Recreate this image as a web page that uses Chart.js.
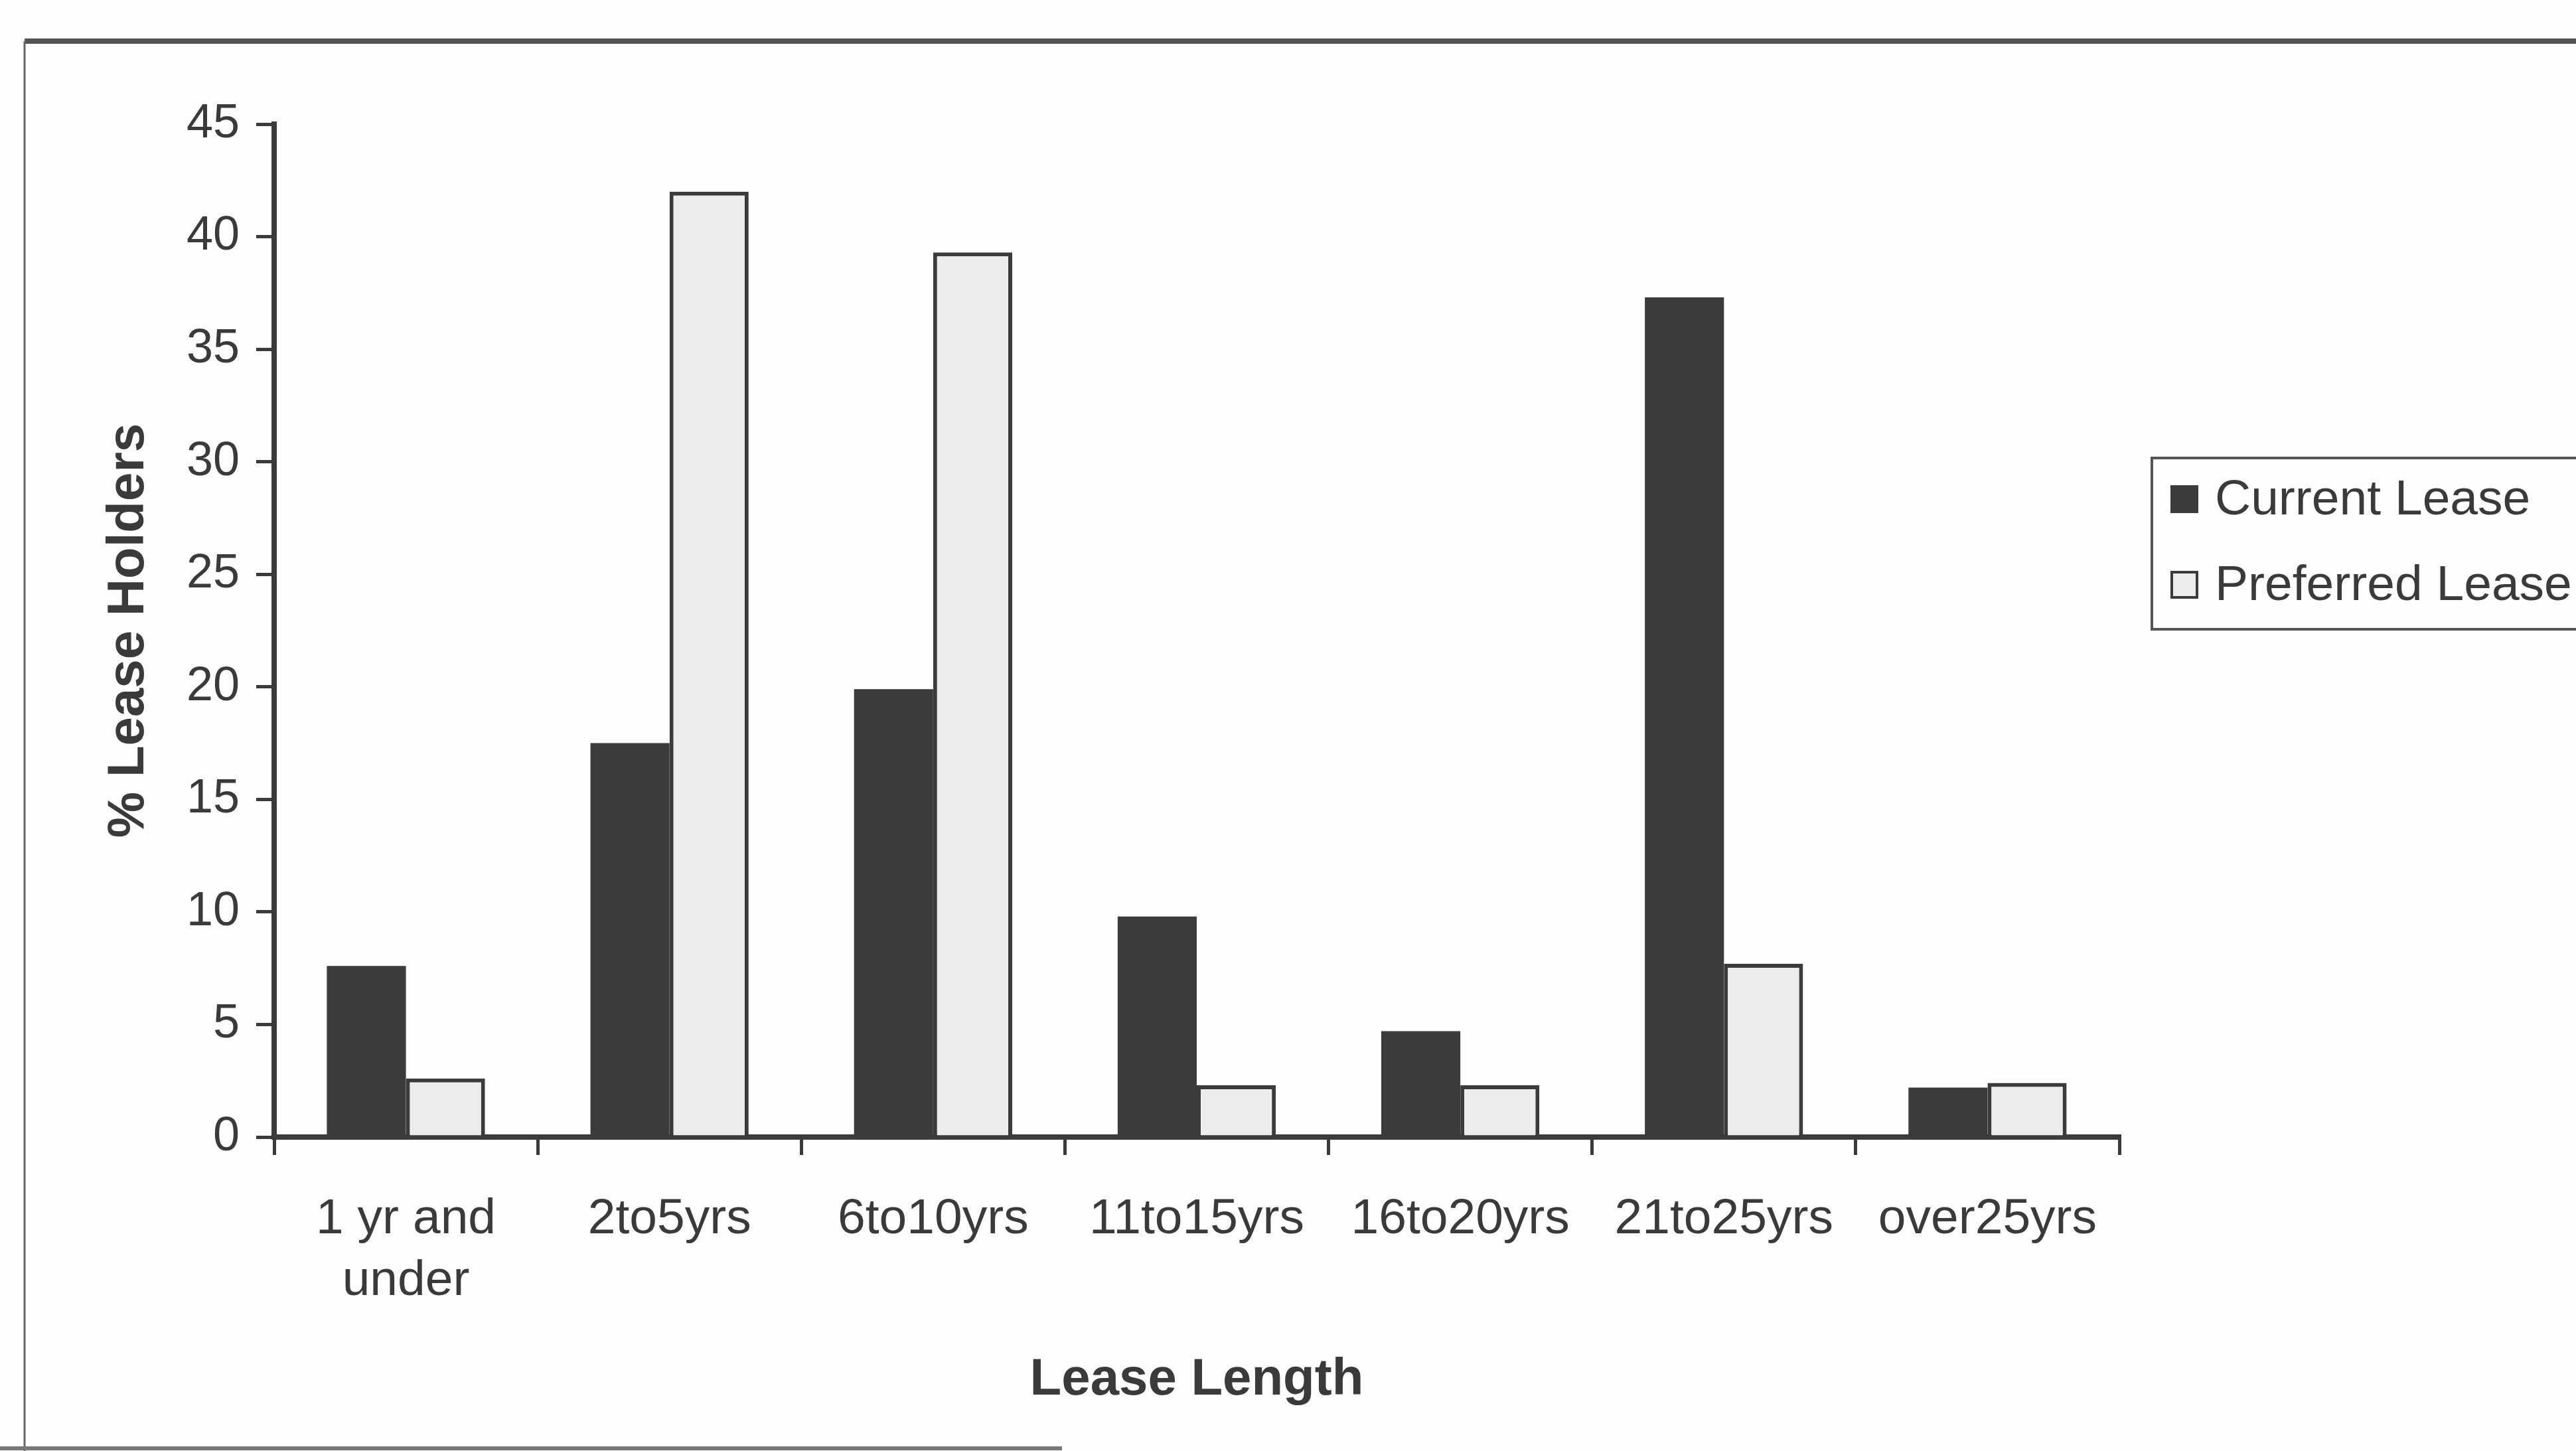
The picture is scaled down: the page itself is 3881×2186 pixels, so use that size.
<!DOCTYPE html>
<html>
<head>
<meta charset="utf-8">
<script src="https://cdn.jsdelivr.net/npm/chart.js@4/dist/chart.umd.min.js"></script>
<style>
  html, body { margin: 0; padding: 0; background: #fdfdfd; overflow: hidden; }
  #wrap { width: 3881px; height: 2186px; position: relative; }
  canvas { display: block; }
</style>
</head>
<body>
<div id="wrap"><canvas id="chart" width="3881" height="2186"></canvas></div>
<script>
// Lease length categories (x axis)
const categories = [['1 yr and', 'under'], '2to5yrs', '6to10yrs', '11to15yrs', '16to20yrs', '21to25yrs', 'over25yrs'];
// % of lease holders per category
const currentLease   = [7.6, 17.5, 19.9, 9.8, 4.7, 37.3, 2.2];
const preferredLease = [2.6, 42.0, 39.3, 2.3, 2.3, 7.7, 2.4];
// y axis tick values
const yTickValues = [0, 5, 10, 15, 20, 25, 30, 35, 40, 45];

const INK = '#3a3a3a';
const FONT = "'Liberation Sans', Arial, Helvetica, sans-serif";

// Page frame and the boxed legend at the right
const framePlugin = {
  id: 'frameAndLegend',
  beforeDraw(chart) {
    const ctx = chart.ctx;
    ctx.save();
    ctx.fillStyle = '#fdfdfd';
    ctx.fillRect(0, 0, chart.width, chart.height);
    ctx.restore();
  },
  afterDraw(chart) {
    const ctx = chart.ctx;
    ctx.save();
    // outer frame: top and left edges, faint bottom edge
    ctx.strokeStyle = '#555';
    ctx.lineWidth = 8;
    ctx.beginPath();
    ctx.moveTo(37, 62);
    ctx.lineTo(chart.width, 62);
    ctx.stroke();
    ctx.lineWidth = 3;
    ctx.strokeStyle = '#666';
    ctx.beginPath();
    ctx.moveTo(37, 62);
    ctx.lineTo(37, chart.height);
    ctx.stroke();
    ctx.lineWidth = 6;
    ctx.strokeStyle = '#777';
    ctx.beginPath();
    ctx.moveTo(0, 2182);
    ctx.lineTo(1600, 2182);
    ctx.stroke();

    // legend box
    const lx = 3242, ly = 690, lw = 720, lh = 258;
    ctx.lineWidth = 4;
    ctx.strokeStyle = '#555';
    ctx.strokeRect(lx, ly, lw, lh);
    ctx.font = '75px ' + FONT;
    ctx.textBaseline = 'middle';
    ctx.textAlign = 'left';
    chart.data.datasets.forEach((ds, i) => {
      const cy = 752 + i * 129;
      const bx = 3270, bs = 42;
      ctx.fillStyle = ds.backgroundColor;
      ctx.fillRect(bx, cy - bs / 2, bs, bs);
      if (ds.borderWidth) {
        ctx.lineWidth = 4;
        ctx.strokeStyle = ds.borderColor;
        ctx.strokeRect(bx + 2, cy - bs / 2 + 2, bs - 4, bs - 4);
      }
      ctx.fillStyle = INK;
      ctx.fillText(ds.label, 3337, cy + 2);
    });
    ctx.restore();
  }
};

new Chart(document.getElementById('chart'), {
  type: 'bar',
  data: {
    labels: categories,
    datasets: [
      {
        label: 'Current Lease',
        data: currentLease,
        backgroundColor: '#3b3b3b',
        borderWidth: 0,
        barPercentage: 1.0,
        categoryPercentage: 0.6
      },
      {
        label: 'Preferred Lease',
        data: preferredLease,
        backgroundColor: '#ececec',
        borderColor: '#3b3b3b',
        borderWidth: 6,
        barPercentage: 1.0,
        categoryPercentage: 0.6
      }
    ]
  },
  options: {
    responsive: false,
    animation: false,
    devicePixelRatio: 1,
    events: [],
    layout: { padding: { top: 187, right: 688, bottom: 0, left: 0 } },
    plugins: {
      legend: { display: false },
      tooltip: { enabled: false },
      title: { display: false }
    },
    scales: {
      x: {
        offset: true,
        afterFit(scale) { scale.height = 473; },
        border: { display: true, color: INK, width: 8 },
        grid: { offset: true, drawOnChartArea: false, drawTicks: true, tickLength: 27, color: INK, lineWidth: 5 },
        ticks: {
          color: INK, padding: 50, maxRotation: 0, minRotation: 0, autoSkip: false,
          font: { family: FONT, size: 75, lineHeight: 1.25 }
        },
        title: {
          display: true, text: 'Lease Length', color: INK,
          font: { family: FONT, size: 78, weight: 'bold' },
          padding: { top: 0, bottom: 60 }
        }
      },
      y: {
        min: 0,
        max: 45,
        afterFit(scale) { scale.width = 413; },
        afterBuildTicks(scale) { scale.ticks = yTickValues.map(v => ({ value: v })); },
        border: { display: true, color: INK, width: 8 },
        grid: { drawOnChartArea: false, drawTicks: true, tickLength: 27, color: INK, lineWidth: 5 },
        ticks: {
          color: INK, padding: 25,
          font: { family: FONT, size: 72 }
        },
        title: {
          display: true, text: '% Lease Holders', color: INK,
          font: { family: FONT, size: 78, weight: 'bold' },
          padding: { top: 148, bottom: 0 }
        }
      }
    }
  },
  plugins: [framePlugin]
});
</script>
</body>
</html>
